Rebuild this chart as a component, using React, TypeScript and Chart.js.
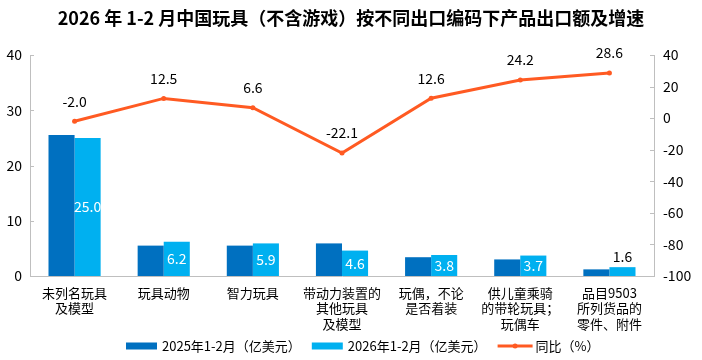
import React, { useEffect, useRef } from "react";
import { Chart, registerables } from "chart.js";

Chart.register(...registerables);

const categories: string[][] = [
  ["未列名玩具", "及模型"],
  ["玩具动物"],
  ["智力玩具"],
  ["带动力装置的", "其他玩具", "及模型"],
  ["玩偶，不论", "是否着装"],
  ["供儿童乘骑", "的带轮玩具；", "玩偶车"],
  ["品目9503", "所列货品的", "零件、附件"],
];
const values2025: number[] = [25.5, 5.5, 5.5, 5.9, 3.4, 3.0, 1.2];
const values2026: number[] = [25.0, 6.2, 5.9, 4.6, 3.8, 3.7, 1.6];
const growth: number[] = [-2.0, 12.5, 6.6, -22.1, 12.6, 24.2, 28.6];
const leftTicks = { min: 0, max: 40, step: 10 };
const rightTicks = { min: -100, max: 40, step: 20 };

const TITLE = "2026 年 1-2 月中国玩具（不含游戏）按不同出口编码下产品出口额及增速";
const LEG = ["2025年1-2月（亿美元）", "2026年1-2月（亿美元）", "同比（%）"];
const C1 = "#0070C0";
const C2 = "#00B0F0";
const C3 = "#FF5A22";
const FONT = '"Noto Sans CJK SC", "Noto Sans", sans-serif';
const AXIS = "#BFBFBF";

const drawPlugin = {
  id: "customDraw",
  afterDatasetsDraw(chart: any) {
    const ctx = chart.ctx;
    ctx.save();
    ctx.font = `14px ${FONT}`;
    ctx.textAlign = "center";
    ctx.textBaseline = "middle";
    const m1 = chart.getDatasetMeta(1);
    m1.data.forEach((bar: any, i: number) => {
      const txt = values2026[i].toFixed(1);
      const h = bar.base - bar.y;
      if (h > 15) {
        ctx.fillStyle = "#FFFFFF";
        ctx.fillText(txt, bar.x, (bar.y + bar.base) / 2);
      } else {
        ctx.fillStyle = "#000000";
        ctx.fillText(txt, bar.x, bar.y - 10);
      }
    });
    const m2 = chart.getDatasetMeta(2);
    ctx.fillStyle = "#000000";
    m2.data.forEach((pt: any, i: number) => {
      ctx.fillText(growth[i].toFixed(1), pt.x, pt.y - 20);
    });
    ctx.restore();
  },
  afterDraw(chart: any) {
    const ctx = chart.ctx;
    const ca = chart.chartArea;
    ctx.save();
    // inward tick marks
    ctx.strokeStyle = AXIS;
    ctx.lineWidth = 1;
    const ys = chart.scales.y;
    ys.ticks.forEach((t: any) => {
      const y = Math.round(ys.getPixelForValue(t.value)) + 0.5;
      ctx.beginPath();
      ctx.moveTo(ca.left, y);
      ctx.lineTo(ca.left + 4, y);
      ctx.stroke();
    });
    const y1 = chart.scales.y1;
    y1.ticks.forEach((t: any) => {
      const y = Math.round(y1.getPixelForValue(t.value)) + 0.5;
      ctx.beginPath();
      ctx.moveTo(ca.right - 4, y);
      ctx.lineTo(ca.right, y);
      ctx.stroke();
    });
    // title
    ctx.font = `bold 18px ${FONT}`;
    ctx.fillStyle = "#000000";
    ctx.textAlign = "center";
    ctx.textBaseline = "middle";
    ctx.fillText(TITLE, 351, 18);
    // legend
    ctx.font = `13px ${FONT}`;
    ctx.textAlign = "left";
    const ly = 346;
    let x = 126;
    LEG.forEach((l, i) => {
      let w: number;
      if (i < 2) {
        w = 31;
        ctx.fillStyle = i === 0 ? C1 : C2;
        ctx.fillRect(x, ly - 3.5, w, 7);
      } else {
        w = 35;
        ctx.strokeStyle = C3;
        ctx.lineWidth = 3;
        ctx.beginPath();
        ctx.moveTo(x, ly);
        ctx.lineTo(x + w, ly);
        ctx.stroke();
        ctx.fillStyle = C3;
        ctx.beginPath();
        ctx.arc(x + w / 2, ly, 2.5, 0, Math.PI * 2);
        ctx.fill();
      }
      const gap = i < 2 ? 5 : 3;
      ctx.fillStyle = "#000000";
      ctx.fillText(l, x + w + gap, ly);
      x += w + gap + ctx.measureText(l).width + 11;
    });
    ctx.restore();
  },
};

export default function App() {
  const ref = useRef<HTMLCanvasElement | null>(null);
  useEffect(() => {
    if (!ref.current) return;
    const chart = new Chart(ref.current, {
      type: "bar",
      data: {
        labels: categories as any,
        datasets: [
          {
            type: "bar",
            label: LEG[0],
            data: values2025,
            backgroundColor: C1,
            yAxisID: "y",
            order: 2,
            barPercentage: 1,
            categoryPercentage: 0.585,
          },
          {
            type: "bar",
            label: LEG[1],
            data: values2026,
            backgroundColor: C2,
            yAxisID: "y",
            order: 2,
            barPercentage: 1,
            categoryPercentage: 0.585,
          },
          {
            type: "line",
            label: LEG[2],
            data: growth,
            borderColor: C3,
            backgroundColor: C3,
            borderWidth: 3,
            pointRadius: 2.5,
            pointBackgroundColor: C3,
            pointBorderWidth: 0,
            yAxisID: "y1",
            order: 1,
            tension: 0,
          } as any,
        ],
      },
      options: {
        animation: false,
        responsive: false,
        maintainAspectRatio: false,
        layout: { padding: { top: 55, bottom: 0, left: 0, right: 0 } },
        plugins: {
          legend: { display: false },
          title: { display: false },
          tooltip: { enabled: false },
        },
        scales: {
          x: {
            grid: { display: false },
            border: { display: true, color: AXIS, width: 1 },
            ticks: {
              color: "#000000",
              font: { family: FONT, size: 13, lineHeight: 1.2 },
              padding: 1,
              maxRotation: 0,
              autoSkip: false,
            },
            afterFit: (s: any) => {
              s.height = 84;
            },
          },
          y: {
            position: "left",
            min: leftTicks.min,
            max: leftTicks.max,
            grid: { display: false, drawTicks: false },
            border: { display: true, color: AXIS, width: 1 },
            ticks: {
              stepSize: leftTicks.step,
              color: "#000000",
              font: { family: FONT, size: 14 },
              padding: 8,
            },
            afterFit: (s: any) => {
              s.width = 30;
            },
          },
          y1: {
            position: "right",
            min: rightTicks.min,
            max: rightTicks.max,
            grid: { display: false, drawTicks: false },
            border: { display: true, color: AXIS, width: 1 },
            ticks: {
              stepSize: rightTicks.step,
              color: "#000000",
              font: { family: FONT, size: 14 },
              padding: 9,
            },
            afterFit: (s: any) => {
              s.width = 48;
            },
          },
        },
      },
      plugins: [drawPlugin],
    });
    return () => chart.destroy();
  }, []);
  return (
    <div style={{ position: "absolute", left: 0, top: 0, width: 702, height: 360, background: "#fff" }}>
      <canvas ref={ref} width={702} height={360} style={{ width: 702, height: 360, display: "block" }} />
    </div>
  );
}
